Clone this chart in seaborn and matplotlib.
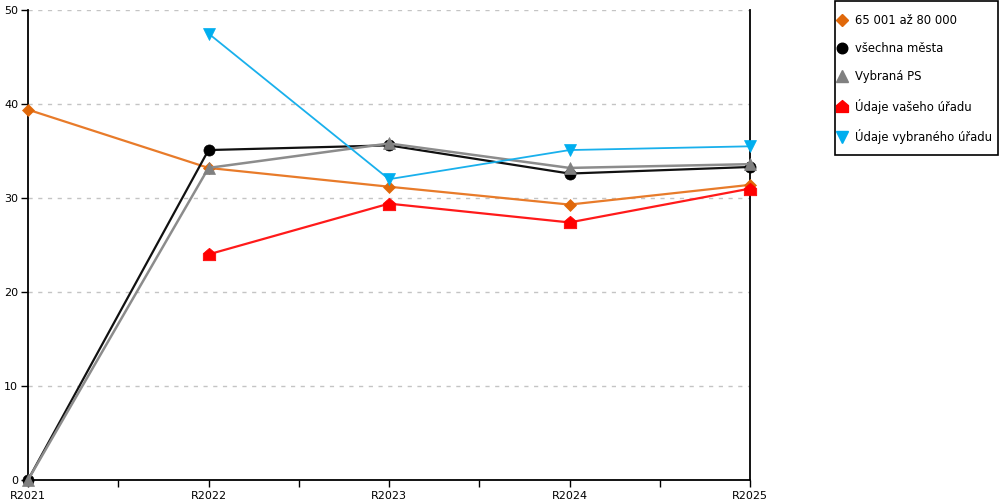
import matplotlib
matplotlib.use("Agg")
import matplotlib.pyplot as plt
from matplotlib.lines import Line2D
from matplotlib.patches import Rectangle
from matplotlib.path import Path
import seaborn as sns
import pandas as pd
import numpy as np

categories = ["R2021", "R2022", "R2023", "R2024", "R2025"]
s_orange = [39.4, 33.2, 31.2, 29.3, 31.4]
s_black = [0.0, 35.1, 35.6, 32.6, 33.3]
s_gray = [0.0, 33.2, 35.8, 33.2, 33.6]
s_red = [np.nan, 24.0, 29.4, 27.4, 31.0]
s_blue = [np.nan, 47.5, 32.0, 35.1, 35.5]
labels = ["65 001 až 80 000", "všechna města", "Vybraná PS",
          "Údaje vašeho úřadu", "Údaje vybraného úřadu"]

house = Path([(-1, -1), (1, -1), (1, 0.15), (0, 1), (-1, 0.15), (-1, -1)],
             [Path.MOVETO, Path.LINETO, Path.LINETO, Path.LINETO, Path.LINETO, Path.CLOSEPOLY])

styles = [
    dict(color="#E87B2A", mcolor="#E0680A", marker="D", ms=6, lw=1.6),
    dict(color="#111111", mcolor="#000000", marker="o", ms=8, lw=1.6),
    dict(color="#8C8C8C", mcolor="#808080", marker="^", ms=9, lw=1.8),
    dict(color="#FF1A1A", mcolor="#FF0000", marker=house, ms=9, lw=1.6),
    dict(color="#19B0EC", mcolor="#00AEEF", marker="v", ms=9, lw=1.3),
]
series = [s_orange, s_black, s_gray, s_red, s_blue]

sns.set_style("white")
plt.rcParams['font.family'] = ['DejaVu Sans']
plt.rcParams['text.color'] = 'black'

fig = plt.figure(figsize=(10, 5), dpi=100)
ax = fig.add_axes([0.028, 0.04, 0.722, 0.94])

x = np.arange(len(categories))
handles = []
for vals, lab, st in zip(series, labels, styles):
    df = pd.DataFrame({"x": x, "y": vals}).dropna()
    sns.lineplot(data=df, x="x", y="y", ax=ax, color=st["color"], lw=st["lw"],
                 marker=st["marker"], markersize=st["ms"], markerfacecolor=st["mcolor"],
                 markeredgecolor=st["mcolor"], markeredgewidth=0.5, legend=False,
                 clip_on=False, zorder=3)
    handles.append(Line2D([], [], linestyle="none", marker=st["marker"],
                          markersize=st["ms"] * 0.95, markerfacecolor=st["mcolor"],
                          markeredgecolor=st["mcolor"], label=lab))

ax.set_xlim(0, 4)
ax.set_ylim(0, 50)
ax.set_xticks(np.arange(0, 4.01, 0.5))
ax.set_xticklabels([categories[int(t)] if float(t).is_integer() else "" for t in np.arange(0, 4.01, 0.5)])
ax.set_yticks([0, 10, 20, 30, 40, 50])
ax.set_xlabel("")
ax.set_ylabel("")
ax.tick_params(axis="both", labelsize=8, colors="black", direction="out", length=5, width=1,
               bottom=True, left=True, pad=2)
ax.tick_params(axis="x", pad=3)
ax.yaxis.grid(True, linestyle=(0, (3, 4)), color="#C4C4C4", linewidth=1)
ax.xaxis.grid(False)
for side in ["left", "bottom", "right"]:
    ax.spines[side].set_visible(True)
    ax.spines[side].set_color("black")
    ax.spines[side].set_linewidth(1.3)
ax.spines["top"].set_visible(False)

# legend frame
fig.patches.append(Rectangle((0.835, 0.69), 0.163, 0.308, transform=fig.transFigure,
                             fill=False, edgecolor="black", linewidth=1.2))

leg = fig.legend(handles=handles, loc="upper left", bbox_to_anchor=(0.8386, 0.972),
                 frameon=False, fontsize=8.4, labelspacing=1.3,
                 handlelength=0.6, handletextpad=0.8, borderpad=0, borderaxespad=0)
for t in leg.get_texts():
    t.set_color("black")

fig.savefig("out.png", dpi=100)
